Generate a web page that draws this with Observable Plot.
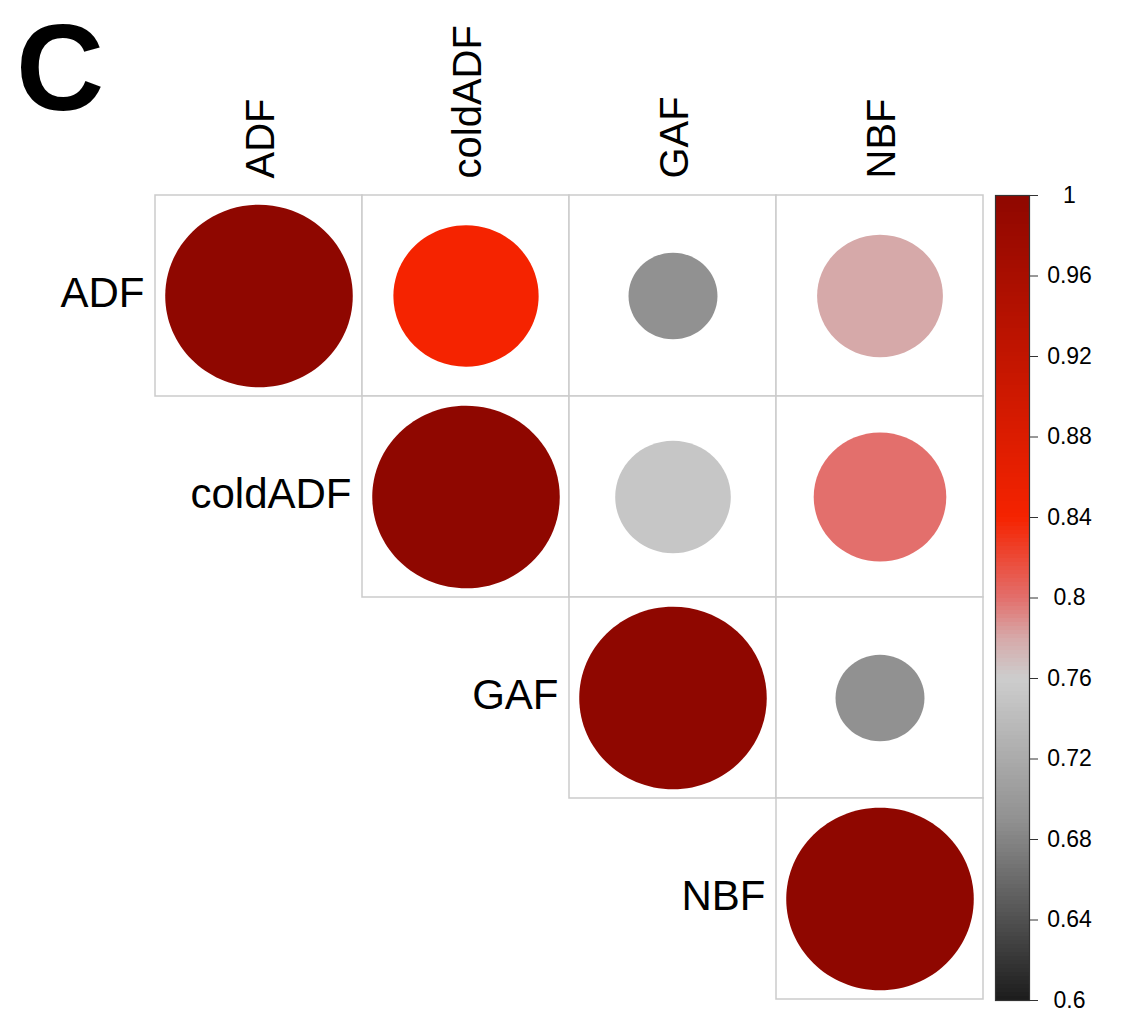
<!DOCTYPE html>
<html>
<head>
<meta charset="utf-8">
<script src="https://cdn.jsdelivr.net/npm/d3@7"></script>
<script src="https://cdn.jsdelivr.net/npm/@observablehq/plot@0.6"></script>
<style>
  html, body { margin: 0; padding: 0; background: #fff; }
  #chart { position: relative; width: 1127px; height: 1013px; font-family: "Liberation Sans", Arial, Helvetica, sans-serif; }
  #chart svg { position: absolute; left: 0; top: 0; max-width: none; }
  #panel { position: absolute; left: 16px; top: 7px; font-size: 122px; line-height: 1; font-weight: bold; color: #000; }
</style>
</head>
<body>
<div id="chart"><div id="panel">C</div></div>
<script>
// Variables of the correlation matrix
const variables = ["ADF", "coldADF", "GAF", "NBF"];

// Upper-triangle entries (row, column, value)
const rowVar = ["ADF", "ADF", "ADF", "ADF", "coldADF", "coldADF", "coldADF", "GAF", "GAF", "NBF"];
const colVar = ["ADF", "coldADF", "GAF", "NBF", "coldADF", "GAF", "NBF", "GAF", "NBF", "NBF"];
const corrValue = [1, 0.84, 0.69, 0.78, 1, 0.752, 0.80, 1, 0.69, 1];

// Colour limits and palette stops
const colorLimits = [0.6, 1];
const colorStops = [0.6, 0.69, 0.76, 0.78, 0.8, 0.84, 1];
const colorRange = ["#1c1c1c", "#919191", "#cdcdcd", "#d6a9a9", "#e36f6c", "#f52300", "#8f0700"];
const legendTicks = [0.6, 0.64, 0.68, 0.72, 0.76, 0.8, 0.84, 0.88, 0.92, 0.96, 1];

const table = corrValue.map((value, i) => ({row: rowVar[i], col: colVar[i], value}));

// Layout
const W = 1127, H = 1013;
const gridLeft = 155, gridRight = 983, gridTop = 194, gridBottom = 1000;
const cellW = (gridRight - gridLeft) / variables.length;
const cellH = (gridBottom - gridTop) / variables.length;
const aspect = cellH / cellW;
const font = "'Liberation Sans', Arial, Helvetica, sans-serif";

// Ellipse symbol so each glyph follows the cell's aspect ratio
const ellipse = {
  draw(context, size) {
    const rx = Math.sqrt(size / Math.PI), ry = rx * aspect, k = 0.5522847498;
    context.moveTo(rx, 0);
    context.bezierCurveTo(rx, ry * k, rx * k, ry, 0, ry);
    context.bezierCurveTo(-rx * k, ry, -rx, ry * k, -rx, 0);
    context.bezierCurveTo(-rx, -ry * k, -rx * k, -ry, 0, -ry);
    context.bezierCurveTo(rx * k, -ry, rx, -ry * k, rx, 0);
    context.closePath();
  }
};

const colorScale = {type: "linear", domain: colorStops, range: colorRange, interpolate: "rgb", clamp: true};

const main = Plot.plot({
  width: W,
  height: H,
  marginLeft: gridLeft,
  marginRight: W - gridRight,
  marginTop: gridTop,
  marginBottom: H - gridBottom,
  style: {fontFamily: font, background: "transparent", color: "#000"},
  x: {domain: variables, padding: 0, axis: null},
  y: {domain: variables, padding: 0, axis: null},
  r: {type: "sqrt", domain: [0, colorLimits[1] - colorLimits[0]], range: [0, 0.453 * cellW]},
  color: colorScale,
  marks: [
    Plot.cell(table, {x: "col", y: "row", fill: "white", stroke: "#cbcbcb", strokeWidth: 1.5}),
    Plot.dot(table, {x: "col", y: "row", r: d => d.value - colorLimits[0], fill: "value", symbol: ellipse}),
    Plot.text(variables, {
      x: d => d, frameAnchor: "top", rotate: -90, textAnchor: "start", lineAnchor: "middle",
      dy: -16, dx: 2, fontSize: 40, fill: "#000"
    }),
    Plot.text(variables, {
      x: d => d, y: d => d, textAnchor: "end", lineAnchor: "middle",
      dx: -(cellW / 2 + 11), dy: -2, fontSize: 42, fill: "#000"
    })
  ]
});

// Colour bar on the right
const barLeft = 995, barRight = 1029, barTop = 195, barBottom = 1000;
const bar = Plot.plot({
  width: W,
  height: H,
  marginLeft: barLeft,
  marginRight: W - barRight,
  marginTop: barTop,
  marginBottom: H - barBottom,
  style: {fontFamily: font, background: "transparent", color: "#000"},
  x: {domain: [0, 1], axis: null},
  y: {domain: colorLimits},
  color: colorScale,
  marks: [
    Plot.raster({
      x1: 0, x2: 1, y1: colorLimits[0], y2: colorLimits[1],
      width: 1, height: 200, fill: (x, y) => y, imageRendering: "pixelated"
    }),
    Plot.frame({stroke: "#333", strokeWidth: 1.2}),
    Plot.axisY({
      anchor: "right", ticks: legendTicks, tickSize: 8, tickPadding: 32,
      textAnchor: "middle", fontSize: 23, tickFormat: d3.format("~g"),
      stroke: "#333", fill: "#000", label: null
    })
  ]
});

const chart = document.getElementById("chart");
chart.appendChild(main);
chart.appendChild(bar);
</script>
</body>
</html>
